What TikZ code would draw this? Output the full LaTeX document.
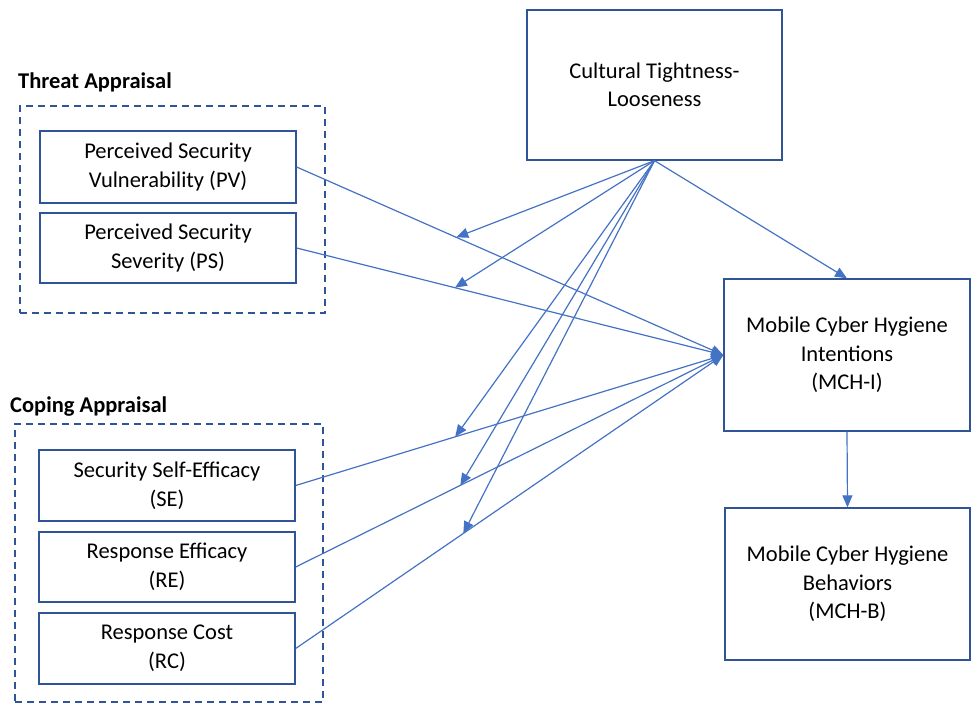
\documentclass[tikz,border=0pt]{standalone}
\usepackage{fontspec}
\setmainfont{Carlito}
\usetikzlibrary{arrows.meta}
\definecolor{boxc}{HTML}{2F5597}
\definecolor{linec}{HTML}{4472C4}
\begin{document}
\begin{tikzpicture}[x=1pt,y=-1pt,
  boxn/.style={draw=boxc,line width=1.3pt,inner sep=0pt,align=center,
    font=\fontsize{22.5}{28.5}\selectfont,text=black},
  grp/.style={draw=boxc,line width=1.3pt,dash pattern=on 7pt off 5pt,inner sep=0pt},
  ttl/.style={font=\fontsize{22.5}{26}\selectfont\bfseries,anchor=west,inner sep=0pt},
  conn/.style={draw=linec,line width=1.2pt,-{Triangle[length=12pt,width=10pt]}}]
\useasboundingbox (0,0) rectangle (972,704);
% groups
\node[grp,minimum width=305pt,minimum height=207pt] (thr) at (172.5,209.5) {};
\node[grp,minimum width=308pt,minimum height=278pt] (cop) at (169,563) {};
\node[ttl] (thrl) at (18,82) {Threat Appraisal};
\node[ttl] (copl) at (10,407) {Coping Appraisal};
% boxes
\node[boxn,minimum width=256pt,minimum height=72pt] (pv) at (168,167) {Perceived Security\\Vulnerability (PV)};
\node[boxn,minimum width=256pt,minimum height=70pt] (ps) at (168,248) {Perceived Security\\Severity (PS)};
\node[boxn,minimum width=256pt,minimum height=71pt] (se) at (167,485.5) {Security Self-Efficacy\\(SE)};
\node[boxn,minimum width=256pt,minimum height=70pt] (re) at (167,567) {Response Efficacy\\(RE)};
\node[boxn,minimum width=256pt,minimum height=71pt] (rc) at (167,648.5) {Response Cost\\(RC)};
\node[boxn,minimum width=255pt,minimum height=150pt] (cult) at (654.5,85) {Cultural Tightness-\\Looseness};
\node[boxn,minimum width=246pt,minimum height=152pt] (mchi) at (847,355) {Mobile Cyber Hygiene\\Intentions\\(MCH-I)};
\node[boxn,minimum width=245pt,minimum height=152pt] (mchb) at (847.5,584) {Mobile Cyber Hygiene\\Behaviors\\(MCH-B)};
% paths to MCH-I
\foreach \s/\p in {pv/0.374, ps/0.371, se/0.373, re/0.385, rc/0.392}{
  \draw[conn] (\s.east) -- (mchi.west) coordinate[pos=\p] (t\s);
}
% moderating arrows
\foreach \s in {pv,ps,se,re,rc}{
  \draw[conn] (cult.south) -- (t\s);
}
\draw[conn] (cult.south) -- (mchi.north);
\draw[conn] (mchi.south) -- (mchb.north);
\end{tikzpicture}
\end{document}
